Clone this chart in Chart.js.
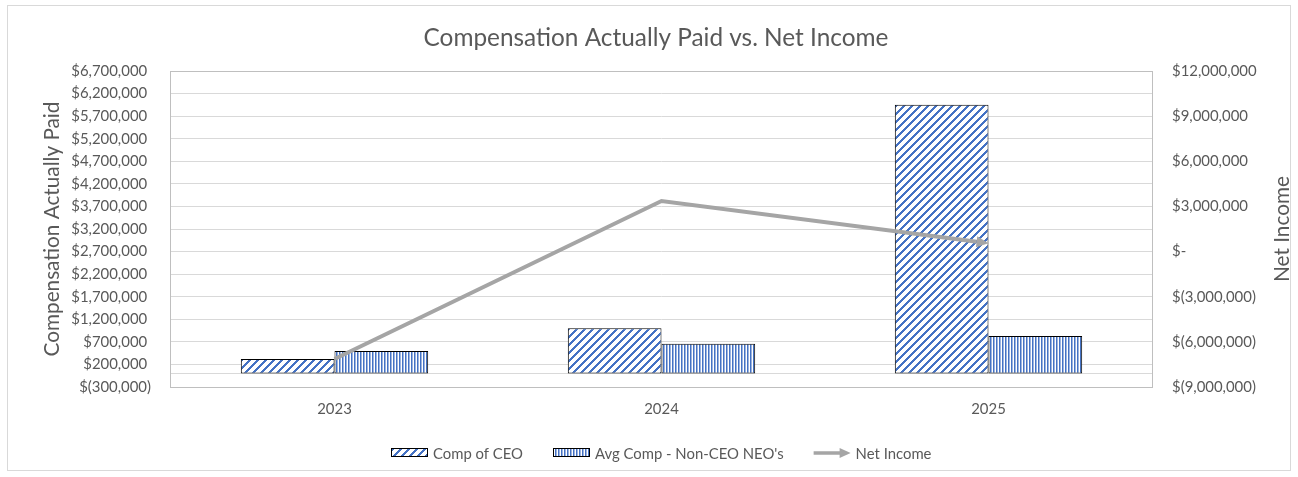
<!DOCTYPE html>
<html><head><meta charset="utf-8">
<script src="https://cdn.jsdelivr.net/npm/chart.js@4.4.0/dist/chart.umd.min.js"></script>
<style>html,body{margin:0;padding:0;background:#fff;overflow:hidden}</style>
</head><body>
<canvas id="c" width="1298" height="477"></canvas>
<script>
// ---- data ----
const categories = ['2023', '2024', '2025'];
const compCEO = [320000, 1000000, 5950000];
const avgCompNonCEO = [500000, 660000, 830000];
const netIncome = [-7140000, 3360000, 550000];
const leftAxisRange = [-300000, 6700000, 500000];   // min, max, step
const rightAxisRange = [-9000000, 12000000, 3000000]; // min, max, step
const seriesLabels = ['Comp of CEO', "Avg Comp - Non-CEO NEO's", 'Net Income'];
const chartTitle = 'Compensation Actually Paid vs. Net Income';
const leftTitle = 'Compensation Actually Paid';
const rightTitle = 'Net Income';

// ---- style ----
const FAMILY = 'Lato, "Open Sans", "Liberation Sans", sans-serif';
const TEXT = '#595959';
const BLUE = '#4472C4';
const LINE = '#A5A5A5';
const mctx = document.createElement('canvas').getContext('2d');
function fitSize(text, target) { mctx.font = '100px ' + FAMILY; return +(target / mctx.measureText(text).width * 100).toFixed(2); }
const tickSize = fitSize('$6,700,000', 76);
const titleSize = fitSize(chartTitle, 465);
const axisTitleSize = fitSize(leftTitle, 255);
const legendSize = fitSize('Comp of CEO', 90);

const canvas = document.getElementById('c');
const ctx = canvas.getContext('2d');

function makePattern(w, h, paint) {
  const c = document.createElement('canvas'); c.width = w; c.height = h;
  const x = c.getContext('2d'); x.fillStyle = '#fff'; x.fillRect(0, 0, w, h);
  for (let i = 0; i < w; i++) for (let j = 0; j < h; j++) {
    const col = paint(i, j);
    if (col) { x.fillStyle = col; x.fillRect(i, j, 1, 1); }
  }
  return ctx.createPattern(c, 'repeat');
}
const diagPattern = makePattern(8, 8, (i, j) => ((i + j) % 8) < 3 ? BLUE : null);
const vertPattern = makePattern(3, 1, (i) => i === 0 ? BLUE : (i === 1 ? '#9db4df' : null));

function fmtLeft(v) {
  const a = Math.abs(v).toLocaleString('en-US');
  return v < 0 ? '$(' + a + ')' : '$' + a + ' ';
}
function fmtRight(v) {
  if (v === 0) return '$-';
  const a = Math.abs(v).toLocaleString('en-US');
  return v < 0 ? '$(' + a + ')' : '$' + a;
}

const ARROW_L = 12, ARROW_H = 5.5;
function arrowGeom(chart) {
  const pts = chart.getDatasetMeta(0).data;
  const p = pts[pts.length - 1], q = pts[pts.length - 2];
  const dx = p.x - q.x, dy = p.y - q.y, len = Math.hypot(dx, dy);
  return { px: p.x, py: p.y, ux: dx / len, uy: dy / len };
}
function drawArrowHead(c, px, py, ux, uy, L, H, color) {
  const bx = px - ux * L, by = py - uy * L, nx = -uy, ny = ux;
  c.fillStyle = color; c.beginPath();
  c.moveTo(px, py); c.lineTo(bx + nx * H, by + ny * H); c.lineTo(bx - nx * H, by - ny * H);
  c.closePath(); c.fill();
}

const decor = {
  id: 'decor',
  beforeDraw(chart) {
    const c = chart.ctx; c.save();
    c.fillStyle = '#fff'; c.fillRect(0, 0, chart.width, chart.height);
    c.strokeStyle = '#d9d9d9'; c.lineWidth = 1; c.strokeRect(7.5, 5.5, 1283, 465);
    c.fillStyle = TEXT; c.font = titleSize + 'px ' + FAMILY; c.textAlign = 'center'; c.textBaseline = 'middle';
    c.fillText(chartTitle, 656, 38);
    c.restore();
  },
  beforeDatasetsDraw(chart) {
    const { ctx: c, chartArea: a, scales } = chart;
    c.save(); c.lineWidth = 1;
    const y0 = Math.round(scales.y.getPixelForValue(0)) + 0.5;
    c.strokeStyle = '#d9d9d9'; c.beginPath(); c.moveTo(a.left, y0); c.lineTo(a.right, y0); c.stroke();
    c.strokeStyle = '#bfbfbf';
    c.strokeRect(Math.round(a.left) - 0.5, Math.round(a.top) + 0.5, Math.round(a.right - a.left) + 1, Math.round(a.bottom - a.top));
    c.restore();
  },
  beforeDatasetDraw(chart, args) {
    if (args.index !== 0) return;
    const { px, py, ux, uy } = arrowGeom(chart);
    const c = chart.ctx; c.save();
    const bx = px - ux * ARROW_L, by = py - uy * ARROW_L, nx = -uy, ny = ux, W = 12, F = 40;
    c.beginPath(); c.rect(0, 0, chart.width, chart.height);
    c.moveTo(bx + nx * W, by + ny * W); c.lineTo(bx - nx * W, by - ny * W);
    c.lineTo(bx - nx * W + ux * F, by - ny * W + uy * F); c.lineTo(bx + nx * W + ux * F, by + ny * W + uy * F);
    c.closePath(); c.clip('evenodd');
  },
  afterDatasetDraw(chart, args) {
    if (args.index !== 0) return;
    const c = chart.ctx; c.restore();
    const { px, py, ux, uy } = arrowGeom(chart);
    drawArrowHead(c, px, py, ux, uy, ARROW_L, ARROW_H, LINE);
  },
  afterDraw(chart) {
    const c = chart.ctx, a = chart.chartArea, ds = chart.data.datasets;
    c.save();
    // right axis title (reads bottom-to-top)
    c.fillStyle = TEXT; c.font = axisTitleSize + 'px ' + FAMILY; c.textAlign = 'center'; c.textBaseline = 'middle';
    c.translate(1282, (a.top + a.bottom) / 2); c.rotate(-Math.PI / 2); c.fillText(rightTitle, 0, 0);
    c.setTransform(1, 0, 0, 1, 0, 0);
    // legend
    const items = [{ kind: 'box', fill: diagPattern, label: ds[1].label },
                   { kind: 'box', fill: vertPattern, label: ds[2].label },
                   { kind: 'arrow', label: ds[0].label }];
    c.font = legendSize + 'px ' + FAMILY;
    const BOX = 37, GAP = 5, SEP = 30;
    let total = 0;
    items.forEach((it, i) => { it.tw = c.measureText(it.label).width; total += BOX + GAP + it.tw + (i ? SEP : 0); });
    let x = Math.round((a.left + a.right) / 2 - total / 2);
    const yc = 454;
    items.forEach((it) => {
      if (it.kind === 'box') {
        c.fillStyle = it.fill; c.fillRect(x, yc - 6, BOX, 9);
        c.strokeStyle = '#000'; c.lineWidth = 1; c.strokeRect(x + 0.5, yc - 5.5, BOX - 1, 8);
      } else {
        c.strokeStyle = LINE; c.lineWidth = 3.5; c.beginPath(); c.moveTo(x, yc - 1); c.lineTo(x + BOX - 10, yc - 1); c.stroke();
        drawArrowHead(c, x + BOX, yc - 1, 1, 0, 11, 5, LINE);
      }
      c.fillStyle = TEXT; c.textAlign = 'left'; c.textBaseline = 'middle';
      c.fillText(it.label, x + BOX + GAP, yc);
      x += BOX + GAP + it.tw + SEP;
    });
    c.restore();
  }
};

const tickFont = { family: FAMILY, size: tickSize };
new Chart(ctx, {
  type: 'bar',
  data: {
    labels: categories,
    datasets: [
      { type: 'line', label: seriesLabels[2], data: netIncome, yAxisID: 'y1', borderColor: LINE, backgroundColor: LINE,
        borderWidth: 4, pointRadius: 0, pointHoverRadius: 0, tension: 0, fill: false, order: 0, borderCapStyle: 'butt' },
      { label: seriesLabels[0], data: compCEO, yAxisID: 'y', backgroundColor: diagPattern, borderColor: '#000',
        borderWidth: 1, borderSkipped: false, categoryPercentage: 0.573, barPercentage: 1, order: 1 },
      { label: seriesLabels[1], data: avgCompNonCEO, yAxisID: 'y', backgroundColor: vertPattern, borderColor: '#000',
        borderWidth: 1, borderSkipped: false, categoryPercentage: 0.573, barPercentage: 1, order: 1 }
    ]
  },
  options: {
    responsive: false, animation: false, devicePixelRatio: 1,
    layout: { padding: { top: 71, bottom: 60, left: 0, right: 0 } },
    plugins: { legend: { display: false }, title: { display: false }, tooltip: { enabled: false } },
    scales: {
      x: {
        grid: { display: false, drawTicks: false }, border: { display: false },
        ticks: { color: TEXT, font: tickFont, padding: 13 },
        afterFit: (s) => { s.height = 30; }
      },
      y: {
        position: 'left', min: leftAxisRange[0], max: leftAxisRange[1],
        ticks: { stepSize: leftAxisRange[2], callback: fmtLeft, color: TEXT, font: tickFont, padding: 20 },
        grid: { color: '#d9d9d9', drawTicks: false }, border: { display: false },
        title: { display: true, text: leftTitle, color: TEXT, font: { family: FAMILY, size: axisTitleSize },
                 padding: { top: 52 - axisTitleSize * 0.6, bottom: 0 } },
        afterFit: (s) => { s.width = 171; }
      },
      y1: {
        position: 'right', min: rightAxisRange[0], max: rightAxisRange[1],
        ticks: { stepSize: rightAxisRange[2], callback: fmtRight, color: TEXT, font: tickFont, padding: 20 },
        grid: { display: false, drawTicks: false }, border: { display: false },
        afterFit: (s) => { s.width = 146; }
      }
    }
  },
  plugins: [decor]
});
</script>
</body></html>
